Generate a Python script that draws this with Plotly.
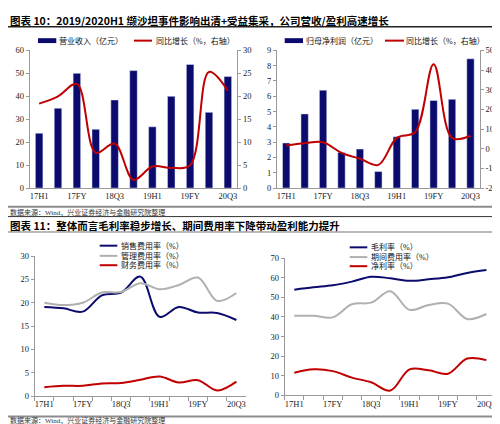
import plotly.graph_objects as go

# ---------------- data ----------------
categories = ["17H1", "17Q3", "17FY", "18H1", "18Q3", "18FY", "19H1", "19Q3", "19FY", "20H1", "20Q3"]
tick_labels = ["17H1", "", "17FY", "", "18Q3", "", "19H1", "", "19FY", "", "20Q3"]

revenue = [23.9, 34.8, 50.0, 25.6, 38.4, 51.2, 26.7, 40.0, 53.9, 33.0, 48.6]          # 亿元
revenue_yoy = [18.4, 20.0, 22.7, 7.7, 9.7, 1.8, 4.7, 4.4, 5.0, 25.3, 21.2]           # %
net_profit = [2.95, 4.85, 6.40, 2.33, 2.55, 1.08, 3.35, 5.15, 5.73, 5.80, 8.45]     # 亿元
net_profit_yoy = [16, 28, 33, -21, -51, -82, 55, 85, 430, 55, 66]                   # %
yoy_right_ticks = [-200, -100, 0, 100, 200, 300, 400, 500]
yoy_right_labels = ["-200", "-100", "0", "100", "200", "300", "400", "500"]

sales_rate = [19.1, 18.8, 18.1, 21.6, 22.2, 25.6, 17.0, 19.1, 17.9, 17.8, 16.3]
admin_rate = [20.0, 19.5, 20.0, 22.2, 22.3, 24.2, 22.9, 23.8, 25.4, 20.4, 22.1]
finance_rate = [1.9, 2.2, 2.2, 2.7, 2.8, 3.5, 4.2, 2.9, 3.4, 1.2, 3.1]

gross_margin = [53.9, 55.1, 56.1, 58.0, 60.5, 59.7, 58.4, 59.2, 60.2, 62.4, 63.9]
period_expense = [40.6, 40.6, 39.8, 46.5, 47.3, 53.1, 43.6, 46.1, 46.8, 39.0, 41.5]
net_margin = [11.6, 13.3, 12.4, 9.1, 6.7, 2.5, 13.3, 12.8, 11.1, 18.8, 18.0]

title1 = "图表 10：2019/2020H1 缬沙坦事件影响出清+受益集采，公司营收/盈利高速增长"
title2 = "图表 11：整体而言毛利率稳步增长、期间费用率下降带动盈利能力提升"
source = "数据来源：Wind，兴业证券经济与金融研究院整理"

# ---------------- style ----------------
W, H = 500, 424
NAVY = "#0b0b6e"
RED = "#c00000"
GRAY = "#b0b0b0"
AXIS = "#9a9a9a"
FONT = "Liberation Serif, Times New Roman, Noto Sans CJK SC, serif"
TICKF = dict(family=FONT, size=8.5, color="#222222")


def px(x):
    return x / W


def py(y):
    return 1 - y / H


fig = go.Figure()

# Top-left: revenue
fig.add_trace(go.Bar(x=categories, y=revenue, marker_color=NAVY, xaxis="x", yaxis="y",
                     name="营业收入（亿元）", showlegend=False))
fig.add_trace(go.Scatter(x=categories, y=revenue_yoy, mode="lines", xaxis="x", yaxis="y2",
                         line=dict(color=RED, width=2, shape="spline", smoothing=1.0),
                         name="同比增长（%，右轴）", showlegend=False))
# Top-right: net profit
fig.add_trace(go.Bar(x=categories, y=net_profit, marker_color=NAVY, xaxis="x2", yaxis="y3",
                     name="归母净利润（亿元）", showlegend=False))
fig.add_trace(go.Scatter(x=categories, y=net_profit_yoy, mode="lines", xaxis="x2", yaxis="y4",
                         line=dict(color=RED, width=2, shape="spline", smoothing=1.0),
                         name="同比增长（%，右轴）", showlegend=False))
# Bottom-left: expense ratios
for vals, col, nm in [(sales_rate, NAVY, "销售费用率（%）"), (admin_rate, GRAY, "管理费用率（%）"),
                      (finance_rate, RED, "财务费用率（%）")]:
    fig.add_trace(go.Scatter(x=categories, y=vals, mode="lines", xaxis="x3", yaxis="y5",
                             line=dict(color=col, width=2, shape="spline", smoothing=1.0),
                             name=nm, showlegend=False))
# Bottom-right: margins
for vals, col, nm in [(gross_margin, NAVY, "毛利率（%）"), (period_expense, GRAY, "期间费用率（%）"),
                      (net_margin, RED, "净利率（%）")]:
    fig.add_trace(go.Scatter(x=categories, y=vals, mode="lines", xaxis="x4", yaxis="y6",
                             line=dict(color=col, width=2, shape="spline", smoothing=1.0),
                             name=nm, showlegend=False))

common_x = dict(type="category", tickmode="array", tickvals=categories, ticktext=tick_labels,
                showline=True, linecolor=AXIS, linewidth=1, showgrid=False, zeroline=False,
                tickfont=TICKF, range=[-0.5, 10.5], fixedrange=True, tickangle=0)
common_y = dict(showline=True, linecolor=AXIS, linewidth=1, showgrid=False, zeroline=False,
                ticks="outside", ticklen=3, tickcolor=AXIS, tickfont=TICKF, fixedrange=True)

top_dom = [py(179.3), py(38.3)]

fig.update_layout(
    width=W, height=H,
    margin=dict(l=0, r=0, t=0, b=0),
    paper_bgcolor="white", plot_bgcolor="rgba(0,0,0,0)",
    bargap=0.6,
    xaxis=dict(common_x, domain=[px(21.7), px(229.3)], anchor="y", ticks=""),
    yaxis=dict(common_y, domain=top_dom, range=[0, 60], dtick=10, anchor="x"),
    yaxis2=dict(common_y, overlaying="y", side="right", range=[0, 30], dtick=5, anchor="x"),
    xaxis2=dict(common_x, domain=[px(269), px(471.7)], anchor="y3", ticks=""),
    yaxis3=dict(common_y, domain=top_dom, range=[0, 9], dtick=1, anchor="x2"),
    yaxis4=dict(common_y, overlaying="y3", side="right", range=[-200, 500], tickmode="array",
                tickvals=yoy_right_ticks, ticktext=yoy_right_labels, anchor="x2"),
    xaxis3=dict(common_x, domain=[px(26.7), px(238)], anchor="y5", ticks="outside",
                tickson="boundaries", ticklen=4, tickcolor=AXIS),
    yaxis5=dict(common_y, domain=[py(392.3), py(249)], range=[0, 30], dtick=5, anchor="x3"),
    xaxis4=dict(common_x, domain=[px(276.7), px(488)], anchor="y6", ticks="outside",
                tickson="boundaries", ticklen=4, tickcolor=AXIS),
    yaxis6=dict(common_y, domain=[py(391.7), py(251)], range=[0, 70], dtick=10, anchor="x4"),
)

shapes = []
annotations = []


def hline(y, color, width):
    shapes.append(dict(type="line", xref="paper", yref="paper", x0=0, x1=1, y0=py(y), y1=py(y),
                       line=dict(color=color, width=width)))


def text(x, y, s, size=8, bold=False, color="#111111", family=FONT):
    annotations.append(dict(xref="paper", yref="paper", x=px(x), y=py(y), text=("<b>%s</b>" % s) if bold else s,
                            showarrow=False, xanchor="left", yanchor="middle", borderpad=0,
                            font=dict(family=family, size=size, color=color)))


def swatch_line(x0, x1, y, color):
    shapes.append(dict(type="line", xref="paper", yref="paper", x0=px(x0), x1=px(x1), y0=py(y), y1=py(y),
                       line=dict(color=color, width=2)))


def swatch_bar(x0, x1, y, color):
    shapes.append(dict(type="rect", xref="paper", yref="paper", x0=px(x0), x1=px(x1), y0=py(y + 2.5),
                       y1=py(y - 2.5), line=dict(width=0), fillcolor=color))


# separators
hline(14, "#222222", 1.5)
hline(198.5, "#8c8c8c", 2)
hline(208.5, "#333333", 1)
hline(224.3, "#a0a0a0", 1.5)
hline(413.3, "#8c8c8c", 2)

# titles and sources
TITLEF = "Noto Sans CJK SC, Liberation Serif, sans-serif"
text(1, 7.5, title1, size=10.5, bold=True, color="#000000", family=TITLEF)
text(1, 217.5, title2, size=10.5, bold=True, color="#000000", family=TITLEF)
text(1, 204, source, size=7, color="#333333")
text(1, 417.8, source, size=7, color="#333333")

# legends
swatch_bar(30, 48.3, 28.3, NAVY)
text(50, 28.3, "营业收入（亿元）")
swatch_line(126, 144, 28.3, RED)
text(146.5, 28.3, "同比增长（%，右轴）")

swatch_bar(276.7, 295, 28.3, NAVY)
text(296.7, 28.3, "归母净利润（亿元）")
swatch_line(377, 396, 28.3, RED)
text(397, 28.3, "同比增长（%，右轴）")

for (yy, col, nm) in [(238.3, NAVY, "销售费用率（%）"), (248.7, GRAY, "管理费用率（%）"), (258.3, RED, "财务费用率（%）")]:
    swatch_line(91.7, 109.3, yy, col)
    text(111.7, yy, nm)

for (yy, col, nm) in [(240, NAVY, "毛利率（%）"), (250, GRAY, "期间费用率（%）"), (259.3, RED, "净利率（%）")]:
    swatch_line(341.7, 359.3, yy, col)
    text(361.7, yy, nm)

fig.update_layout(shapes=shapes, annotations=annotations)

fig.write_html("out.html")
